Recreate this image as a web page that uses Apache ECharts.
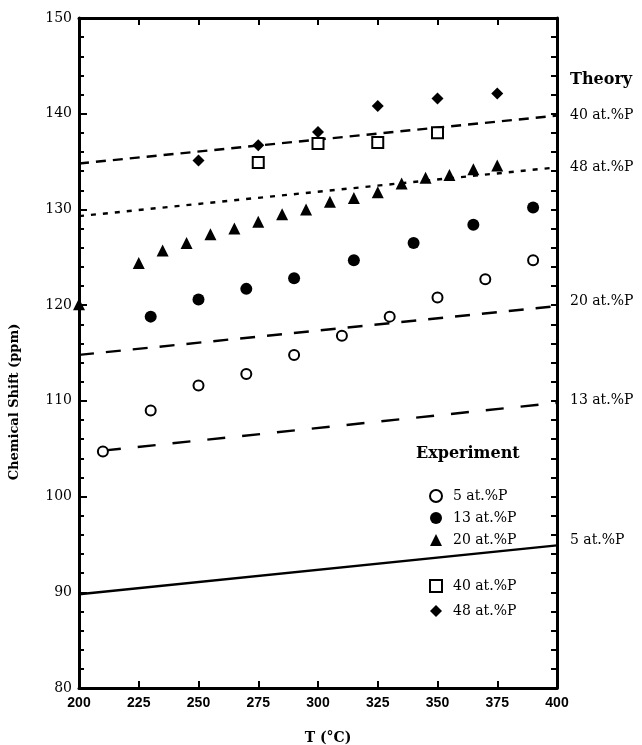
<!DOCTYPE html>
<html>
<head>
<meta charset="utf-8">
<script src="https://cdn.jsdelivr.net/npm/echarts@6/dist/echarts.min.js"></script>
<style>
    html, body {margin: 0; padding: 0; background: #fff;}
    #main {width: 642px; height: 745px;}
</style>
</head>
<body>
<div id="main"></div>
<script>
// experiment points (T, shift)
var x5 = [210, 230, 250, 270, 290, 310, 330, 350, 370, 390];
var y5 = [104.7, 109.0, 111.6, 112.8, 114.8, 116.8, 118.8, 120.8, 122.7, 124.7];
var x13 = [230, 250, 270, 290, 315, 340, 365, 390];
var y13 = [118.8, 120.6, 121.7, 122.8, 124.7, 126.5, 128.4, 130.2];
var x20 = [200, 225, 235, 245, 255, 265, 275, 285, 295, 305, 315, 325, 335, 345, 355, 365, 375];
var y20 = [120.1, 124.4, 125.7, 126.5, 127.4, 128.0, 128.7, 129.5, 130.0, 130.8, 131.2, 131.8, 132.7, 133.3, 133.6, 134.2, 134.6];
var x40 = [275, 300, 325, 350];
var y40 = [134.9, 136.9, 137.0, 138.0];
var x48 = [250, 275, 300, 325, 350, 375];
var y48 = [135.1, 136.7, 138.1, 140.8, 141.6, 142.1];

// theory lines
var thX = [200, 400];
var th40 = [134.8, 139.8];
var th48 = [129.3, 134.4];
var th20 = [114.8, 119.9];
var th13X = [210, 400];
var th13 = [104.8, 109.8];
var th5 = [89.8, 94.9];

var xTicks = [200, 225, 250, 275, 300, 325, 350, 375, 400];
var yTicks = [80, 90, 100, 110, 120, 130, 140, 150];

var zip = function (xs, ys) {
    return xs.map(function (v, i) { return [v, ys[i]]; });
};

var serif = 'DejaVu Serif';

// theory curve, label drawn at the right end of the line
var theoryLine = function (label, xs, ys, dash, offY) {
    return {
        name: 'theory ' + label,
        type: 'line',
        data: zip(xs, ys),
        symbol: 'none',
        silent: true,
        lineStyle: {color: '#000', width: 2.4, type: dash},
        endLabel: {
            show: true,
            formatter: label,
            distance: 13,
            offset: [0, offY],
            color: '#000',
            fontFamily: serif,
            fontSize: 14
        }
    };
};

var expSeries = function (name, xs, ys, symbol, size, fill) {
    return {
        name: name,
        type: 'scatter',
        data: zip(xs, ys),
        symbol: symbol,
        symbolSize: size,
        z: 5,
        itemStyle: fill ? {color: '#000', opacity: 1} : {color: '#fff', borderColor: '#000', borderWidth: 2, opacity: 1}
    };
};

var myChart = echarts.init(document.getElementById('main'));

var legendText = {fontFamily: serif, fontSize: 14, color: '#000', padding: [0, 0, 0, 6]};

var option = {
    animation: false,
    backgroundColor: '#fff',
    grid: {left: 79, right: 85, top: 18, bottom: 57},
    legend: [
        {
            data: ['5 at.%P', '13 at.%P', '20 at.%P'],
            orient: 'vertical',
            left: 424,
            top: 484,
            itemWidth: 12,
            itemHeight: 12,
            itemGap: 8,
            selectedMode: false,
            textStyle: legendText
        },
        {
            data: ['40 at.%P', '48 at.%P'],
            orient: 'vertical',
            left: 424,
            top: 574,
            itemWidth: 12,
            itemHeight: 12,
            itemGap: 11,
            selectedMode: false,
            textStyle: legendText
        }
    ],
    xAxis: [
        {
            type: 'value',
            position: 'bottom',
            min: xTicks[0],
            max: xTicks[xTicks.length - 1],
            interval: 25,
            splitLine: {show: false},
            axisLine: {lineStyle: {color: '#000', width: 3}},
            axisTick: {inside: true, length: 7, lineStyle: {color: '#000', width: 2}},
            axisLabel: {color: '#000', fontFamily: 'Liberation Sans', fontWeight: 'bold', fontSize: 14, margin: 8}
        },
        {
            type: 'value',
            position: 'top',
            min: xTicks[0],
            max: xTicks[xTicks.length - 1],
            interval: 25,
            splitLine: {show: false},
            axisLine: {lineStyle: {color: '#000', width: 3}},
            axisTick: {inside: true, length: 7, lineStyle: {color: '#000', width: 2}},
            axisLabel: {show: false}
        }
    ],
    yAxis: [
        {
            type: 'value',
            position: 'left',
            min: yTicks[0],
            max: yTicks[yTicks.length - 1],
            interval: 10,
            splitLine: {show: false},
            axisLine: {lineStyle: {color: '#000', width: 3}},
            axisTick: {inside: true, length: 8, lineStyle: {color: '#000', width: 2}},
            minorTick: {show: true, splitNumber: 5, length: 5, lineStyle: {color: '#000', width: 2}},
            minorSplitLine: {show: false},
            axisLabel: {color: '#000', fontFamily: serif, fontSize: 14, margin: 7}
        },
        {
            type: 'value',
            position: 'right',
            min: yTicks[0],
            max: yTicks[yTicks.length - 1],
            interval: 10,
            splitLine: {show: false},
            axisLine: {lineStyle: {color: '#000', width: 3}},
            axisTick: {inside: true, length: 6, lineStyle: {color: '#000', width: 2}},
            minorTick: {show: true, splitNumber: 5, length: 6, lineStyle: {color: '#000', width: 2}},
            axisLabel: {show: false}
        }
    ],
    graphic: [
        {
            type: 'text',
            left: 570,
            top: 72,
            style: {text: 'Theory', font: 'bold 16px "DejaVu Serif"', fill: '#000'}
        },
        {
            type: 'text',
            left: 416,
            top: 446,
            style: {text: 'Experiment', font: 'bold 16px "DejaVu Serif"', fill: '#000'}
        },
        {
            type: 'text',
            x: 15,
            y: 402,
            rotation: Math.PI / 2,
            style: {
                text: 'Chemical Shift (ppm)',
                font: 'bold 13px "DejaVu Serif"',
                fill: '#000',
                align: 'center',
                verticalAlign: 'middle'
            }
        },
        {
            type: 'text',
            x: 328,
            y: 738,
            style: {
                text: 'T (°C)',
                font: 'bold 14px "DejaVu Serif"',
                fill: '#000',
                align: 'center',
                verticalAlign: 'middle'
            }
        }
    ],
    series: [
        theoryLine('40 at.%P', thX, th40, [10, 7], 0),
        theoryLine('48 at.%P', thX, th48, [5, 7], 0),
        theoryLine('20 at.%P', thX, th20, [15, 12], -5),
        theoryLine('13 at.%P', th13X, th13, [18, 17], -2),
        theoryLine('5 at.%P', thX, th5, 'solid', -5),
        expSeries('5 at.%P', x5, y5, 'circle', 10, false),
        expSeries('13 at.%P', x13, y13, 'circle', 12, true),
        expSeries('20 at.%P', x20, y20, 'triangle', 12, true),
        expSeries('40 at.%P', x40, y40, 'rect', 11, false),
        expSeries('48 at.%P', x48, y48, 'diamond', 12, true)
    ]
};

myChart.setOption(option);
</script>
</body>
</html>
